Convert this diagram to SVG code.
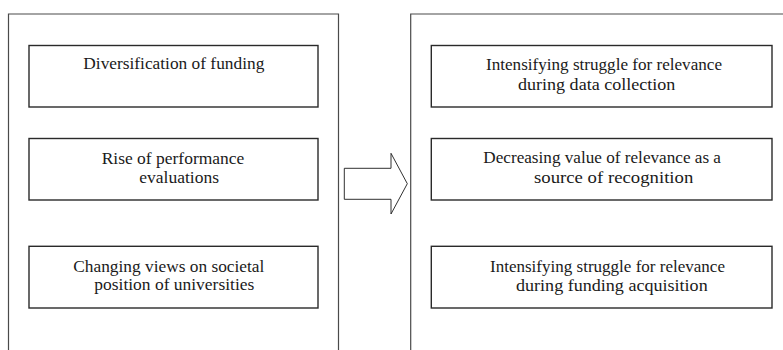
<svg xmlns="http://www.w3.org/2000/svg" width="783" height="350" viewBox="0 0 783 350">
  <style>
    .frame { fill: none; stroke: #4a4a4a; stroke-width: 1.2; }
    .box { fill: #ffffff; stroke: #2a2a2a; stroke-width: 1.4; }
    .arrow { fill: #ffffff; stroke: #1a1a1a; stroke-width: 0.9; stroke-linejoin: miter; }
    .lbl { font-family: 'Liberation Serif', 'Times New Roman', serif; font-size: 17.5px; fill: #1a1a1a; }
  </style>
  <rect width="783" height="350" fill="#ffffff"/>

  <!-- outer panels, open at the bottom edge -->
  <g id="panel-left">
    <path class="frame" d="M8.5,352 V14 H338.5 V352"/>
  </g>
  <g id="panel-right">
    <path class="frame" d="M410.7,352 V14 H785"/>
  </g>

  <!-- drivers -->
  <g id="node-diversification">
    <rect class="box" x="29" y="45.5" width="289" height="61.5"/>
    <text class="lbl" x="83.3" y="69.3" textLength="181" lengthAdjust="spacingAndGlyphs">Diversification of funding</text>
  </g>
  <g id="node-performance">
    <rect class="box" x="29" y="138.5" width="289" height="61.5"/>
    <text class="lbl" x="101.7" y="164.3" textLength="142.6" lengthAdjust="spacingAndGlyphs">Rise of performance</text>
    <text class="lbl" x="139.3" y="183.3" textLength="79.7" lengthAdjust="spacingAndGlyphs">evaluations</text>
  </g>
  <g id="node-societal">
    <rect class="box" x="29" y="246.3" width="289" height="61.7"/>
    <text class="lbl" x="73.3" y="271.7" textLength="191" lengthAdjust="spacingAndGlyphs">Changing views on societal</text>
    <text class="lbl" x="94.3" y="290" textLength="160" lengthAdjust="spacingAndGlyphs">position of universities</text>
  </g>

  <!-- consequences -->
  <g id="node-data-collection">
    <rect class="box" x="431.3" y="45.5" width="340.7" height="61.5"/>
    <text class="lbl" x="486" y="70" textLength="236" lengthAdjust="spacingAndGlyphs">Intensifying struggle for relevance</text>
    <text class="lbl" x="518" y="90" textLength="157.3" lengthAdjust="spacingAndGlyphs">during data collection</text>
  </g>
  <g id="node-recognition">
    <rect class="box" x="431.3" y="138.5" width="340.7" height="61.5"/>
    <text class="lbl" x="483.3" y="163.3" textLength="237.7" lengthAdjust="spacingAndGlyphs">Decreasing value of relevance as a</text>
    <text class="lbl" x="534" y="182.7" textLength="159.3" lengthAdjust="spacingAndGlyphs">source of recognition</text>
  </g>
  <g id="node-funding-acquisition">
    <rect class="box" x="431.3" y="246.3" width="340.7" height="61.7"/>
    <text class="lbl" x="490" y="271.7" textLength="235" lengthAdjust="spacingAndGlyphs">Intensifying struggle for relevance</text>
    <text class="lbl" x="516" y="291" textLength="191.7" lengthAdjust="spacingAndGlyphs">during funding acquisition</text>
  </g>

  <!-- connector: block arrow between panels -->
  <g id="connectors">
    <polygon class="arrow" points="344.3,168.3 391,168.3 391,153.3 407.3,183.7 391,214 391,199.3 344.3,199.3"/>
  </g>
</svg>
